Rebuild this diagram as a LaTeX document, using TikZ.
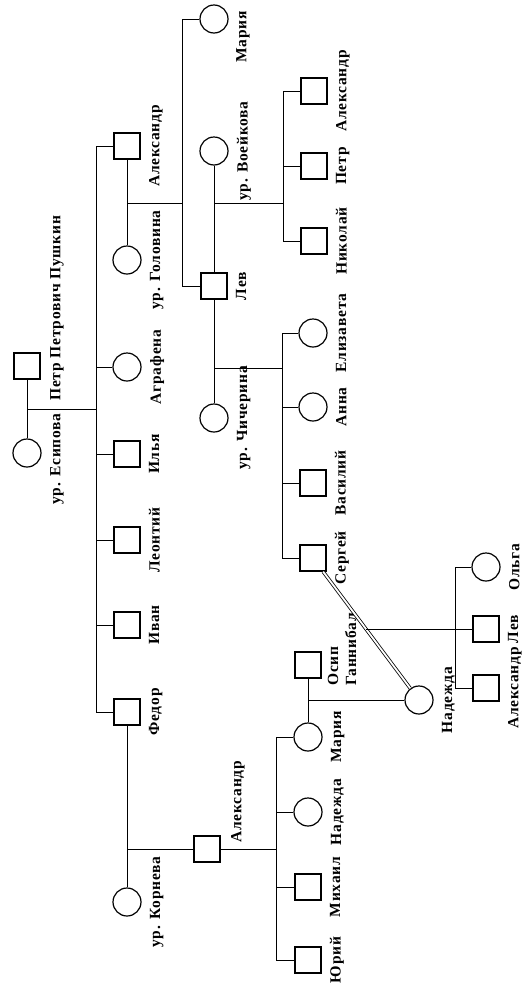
\documentclass[tikz,border=0pt]{standalone}
\usepackage{fontspec}
\newfontfamily\namefont{Liberation Serif}[LetterSpace=5.0]
\usetikzlibrary{positioning, calc}

\begin{document}
\begin{tikzpicture}[
    x=1pt, y=-1pt,
    line width=0.9pt,
    male/.style={
        rectangle,
        minimum size=26pt,
        inner sep=0pt,
        line width=1.2pt,
        draw=black
    },
    female/.style={
        circle,
        minimum size=28pt,
        inner sep=0pt,
        line width=1.2pt,
        draw=black
    },
    lbl/.style={
        rotate=90,
        anchor=north,
        inner sep=0pt,
        font=\namefont\bfseries\fontsize{15.5}{18}\selectfont
    },
    namelabel/.style={lbl, yshift=-8pt},
    label distance=0pt,
    marriage/.style={double, double distance=1.8pt, line width=0.8pt}
]
\useasboundingbox (0,0) rectangle (530,991);

% Petr Petrovich and his children
\node (petr)    [male]   at (27,366) {};
\node (esipova) [female] at (27,453) {};
\node (petrtxt)    [lbl, anchor=west] at (57,401) {Петр Петрович Пушкин};
\node (esipovatxt) [lbl, anchor=east] at (57,413) {ур. Есипова};

\node (alexandr) [male,   label={[namelabel]right:Александр}] at (127,146) {};
\node (agrafena) [female, label={[namelabel]right:Аграфена}]  at (127,367) {};
\node (ilya)     [male,   label={[namelabel]right:Илья}]      at (127,454) {};
\node (leontiy)  [male,   label={[namelabel]right:Леонтий}]   at (127,540) {};
\node (ivan)     [male,   label={[namelabel]right:Иван}]      at (127,625) {};
\node (fedor)    [male,   label={[namelabel]right:Федор}]     at (127,712) {};

\coordinate (pj)   at (27,409);
\coordinate (pbar) at (96,409);

% Alexandr Petrovich
\node (golovina) [female, label={[namelabel]right:ур. Головина}] at (127,260) {};
\coordinate (aj)   at (127,203);
\coordinate (abar) at (182,203);

\node (mariya) [female] at (214,19) {};
\node (mariyatxt) [lbl, anchor=east] at (243,11) {Мария};
\node (lev)    [male, label={[namelabel]right:Лев}] at (214,286) {};

% Lev Alexandrovich
\node (voeikova)   [female, label={[namelabel]right:ур. Воейкова}] at (214,151) {};
\node (chicherina) [female, label={[namelabel]right:ур. Чичерина}] at (214,418) {};
\coordinate (lj1)   at (214,203);
\coordinate (lbar1) at (283,203);
\coordinate (lj2)   at (214,368);
\coordinate (lbar2) at (282,368);

\node (alexandrl) [male, label={[namelabel]right:Александр}] at (314,91)  {};
\node (petrl)     [male, label={[namelabel]right:Петр}]      at (314,166) {};
\node (nikolay)   [male, label={[namelabel]right:Николай}]   at (314,241) {};

\node (elizaveta) [female, label={[namelabel]right:Елизавета}] at (313,333) {};
\node (anna)      [female, label={[namelabel]right:Анна}]      at (313,407) {};
\node (vasiliy)   [male,   label={[namelabel]right:Василий}]   at (313,483) {};
\node (sergey)    [male,   label={[namelabel]right:Сергей}]    at (313,558) {};

% Fedor Petrovich
\node (korneva) [female, label={[namelabel]right:ур. Корнева}] at (127,902) {};
\coordinate (fj) at (127,849);
\node (alexandrf) [male] at (207,849) {};
\node (alexandrftxt) [lbl, anchor=west] at (238,843) {Александр};
\coordinate (fbar) at (276,849);

\node (mariyaf)   [female, label={[namelabel]right:Мария}]   at (308,737) {};
\node (nadezhdaf) [female, label={[namelabel]right:Надежда}] at (308,812) {};
\node (mikhail)   [male,   label={[namelabel]right:Михаил}]  at (308,887) {};
\node (yuri)      [male,   label={[namelabel]right:Юрий}]    at (308,960) {};

% Gannibal
\node (osip) [male] at (308,665) {};
\node (osiptxt) [lbl, anchor=west, align=left] at (342,686) {Осип\\Ганнибал};
\coordinate (oj) at (308,700);
\node (nadezhda) [female, label={[namelabel]right:Надежда}] at (419,700) {};

% Sergey and Nadezhda
\coordinate (sj)   at ($(sergey)!0.5!(nadezhda)$);
\coordinate (sbar) at (455,629);
\node (olga)      [female, label={[namelabel]right:Ольга}]     at (486,567) {};
\node (levs)      [male,   label={[namelabel]right:Лев}]       at (486,629) {};
\node (alexandrs) [male,   label={[namelabel]right:Александр}] at (486,688) {};

% Lines
\draw (petr) -- (esipova);
\draw (pj) -- (pbar);
\draw (pbar |- alexandr) -- (pbar |- fedor);
\foreach \c in {alexandr, agrafena, ilya, leontiy, ivan, fedor}
    \draw (pbar |- \c) -- (\c);

\draw (alexandr) -- (golovina);
\draw (aj) -- (abar);
\draw (abar |- mariya) -- (abar |- lev);
\draw (abar |- mariya) -- (mariya);
\draw (abar |- lev) -- (lev);

\draw (voeikova) -- (lev);
\draw (lev) -- (chicherina);
\draw (lj1) -- (lbar1);
\draw (lbar1 |- alexandrl) -- (lbar1 |- nikolay);
\foreach \c in {alexandrl, petrl, nikolay}
    \draw (lbar1 |- \c) -- (\c);
\draw (lj2) -- (lbar2);
\draw (lbar2 |- elizaveta) -- (lbar2 |- sergey);
\foreach \c in {elizaveta, anna, vasiliy, sergey}
    \draw (lbar2 |- \c) -- (\c);

\draw (fedor) -- (korneva);
\draw (fj) -- (alexandrf);
\draw (alexandrf) -- (fbar);
\draw (fbar |- mariyaf) -- (fbar |- yuri);
\foreach \c in {mariyaf, nadezhdaf, mikhail, yuri}
    \draw (fbar |- \c) -- (\c);

\draw (osip) -- (mariyaf);
\draw (oj) -- (nadezhda);

\draw[marriage] (sergey) -- (nadezhda);
\draw (sj) -- (levs);
\draw (sbar |- olga) -- (sbar |- alexandrs);
\draw (sbar |- olga) -- (olga);
\draw (sbar |- alexandrs) -- (alexandrs);

\end{tikzpicture}
\end{document}
